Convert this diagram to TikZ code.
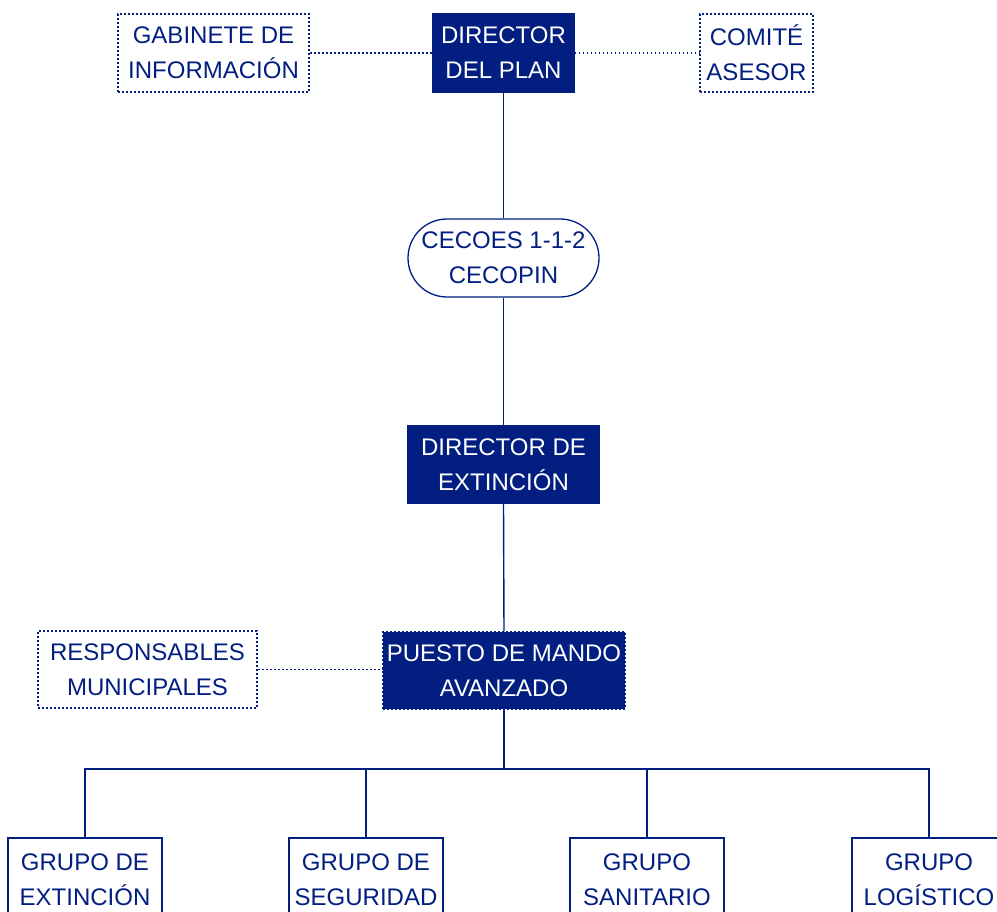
\documentclass[tikz,border=0pt]{standalone}
\usepackage{fontspec}
\setmainfont{Liberation Sans}
\definecolor{navy}{RGB}{2,30,128}
\tikzset{
  base/.style={align=center, inner sep=0pt, text=navy, draw=navy, line width=1.3pt,
     font=\fontsize{24}{35}\selectfont},
  dotbox/.style={base, line width=1.6pt, dash pattern=on 1.8pt off 2.2pt},
  fillbox/.style={base, fill=navy, text=white},
  roundbox/.style={base, rounded corners=39pt},
  grpbox/.style={base, minimum width=154pt, minimum height=84pt},
  conn/.style={draw=navy, line width=1.4pt},
  dotconn/.style={conn, line width=1.6pt, dash pattern=on 1.8pt off 2.2pt}
}
\begin{document}
\begin{tikzpicture}[x=1pt,y=-1pt]
\useasboundingbox (0,0) rectangle (997,912);
\clip (0,0) rectangle (997,912);
\node[dotbox, minimum width=191pt, minimum height=78pt] (gab) at (213.5,53) {GABINETE DE\\INFORMACIÓN};
\node[fillbox, minimum width=141pt, minimum height=78pt] (dir) at (503.5,53) {DIRECTOR\\DEL PLAN};
\node[dotbox, minimum width=113pt, minimum height=78pt] (com) at (756.5,53) {COMITÉ\\ASESOR};
\node[roundbox, minimum width=191pt, minimum height=78pt] (cec) at (503.5,258) {CECOES 1-1-2\\CECOPIN};
\node[fillbox, minimum width=191pt, minimum height=77pt] (ext) at (503.5,464.5) {DIRECTOR DE\\EXTINCIÓN};
\node[fillbox, dash pattern=on 1.8pt off 2.2pt, minimum width=242pt, minimum height=77pt] (pma) at (504,670.5) {PUESTO DE MANDO\\AVANZADO};
\node[dotbox, minimum width=219pt, minimum height=77pt] (res) at (147.5,669.5) {RESPONSABLES\\MUNICIPALES};
\node[grpbox] (g1) at (85,880) {GRUPO DE\\EXTINCIÓN};
\node[grpbox] (g2) at (366,880) {GRUPO DE\\SEGURIDAD};
\node[grpbox] (g3) at (647,880) {GRUPO\\SANITARIO};
\node[grpbox] (g4) at (929,880) {GRUPO\\LOGÍSTICO};
\coordinate (bus) at (504,769);
\draw[dotconn] (gab.east) -- (dir.west);
\draw[dotconn] (dir.east) -- (com.west);
\draw[dotconn] (res.east) -- (res.east -| pma.west);
\draw[conn] (dir.south) -- (cec.north);
\draw[conn] (cec.south) -- (ext.north);
\draw[conn] (ext.south) -- (pma.north);
\draw[conn] (pma.south) -- (bus);
\draw[conn] (g1.north) -- (g1.north |- bus) -- (g4.north |- bus) -- (g4.north);
\draw[conn] (g2.north) -- (g2.north |- bus);
\draw[conn] (g3.north) -- (g3.north |- bus);
\end{tikzpicture}
\end{document}
